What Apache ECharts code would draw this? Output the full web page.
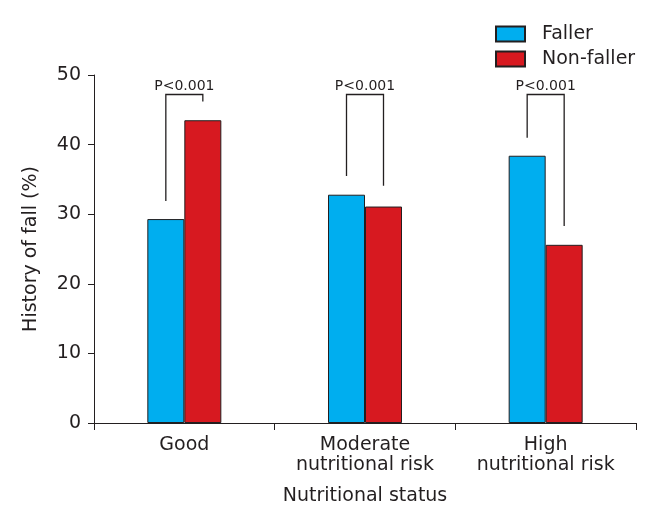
<!DOCTYPE html>
<html><head><meta charset="utf-8">
<script src="https://cdn.jsdelivr.net/npm/echarts@6/dist/echarts.min.js"></script>
<style>html,body{margin:0;padding:0;background:#fff}#c{width:649px;height:511px}</style>
</head><body><div id="c"></div>
<script>
var categories = ['Good', 'Moderate\nnutritional risk', 'High\nnutritional risk'];
var faller = [29.3, 32.8, 38.4];
var nonFaller = [43.5, 31.1, 25.6];
var yTicks = [0, 10, 20, 30, 40, 50];
// bracket: left leg bottom, right leg bottom, top (all in %)
var bracketLeft = [31.9, 35.5, 41.0];
var bracketRight = [46.2, 34.1, 28.3];
var bracketTop = [47.2, 47.2, 47.2];
var pLabels = ['P<0.001', 'P<0.001', 'P<0.001'];

var BAR_W = 37;
var font = '"DejaVu Sans", sans-serif';
var FS = 19;
var col = '#231f20';
var chart = echarts.init(document.getElementById('c'));
var bracketData = categories.map(function (c, i) { return [i, bracketLeft[i], bracketRight[i], bracketTop[i]]; });
chart.setOption({
  animation: false,
  grid: { left: 94, right: 13, top: 75, bottom: 84, containLabel: false },
  legend: {
    orient: 'vertical', left: 490, top: 19, itemWidth: 29, itemHeight: 15, itemGap: 5,
    icon: 'rect',
    textStyle: { fontFamily: font, fontSize: FS, color: col, padding: [0, 0, 0, 12], lineHeight: 20 },
    data: ['Faller', 'Non-faller']
  },
  xAxis: {
    type: 'category', data: categories, boundaryGap: true,
    name: 'Nutritional status', nameLocation: 'middle', nameGap: 64,
    nameTextStyle: { fontFamily: font, fontSize: FS, color: col },
    axisLine: { lineStyle: { color: col, width: 1 } },
    axisTick: { show: true, length: 7, alignWithLabel: false, lineStyle: { color: col } },
    axisLabel: { fontFamily: font, fontSize: FS, color: col, margin: 12, lineHeight: 20 }
  },
  yAxis: {
    type: 'value', min: 0, max: 50, interval: 10,
    name: 'History of fall (%)', nameLocation: 'middle', nameGap: 53,
    nameTextStyle: { fontFamily: font, fontSize: FS, color: col },
    axisLine: { show: true, lineStyle: { color: col, width: 1 } },
    axisTick: { show: true, length: 6, lineStyle: { color: col } },
    splitLine: { show: false },
    axisLabel: { fontFamily: font, fontSize: FS, color: col, margin: 13,
      formatter: function (v) { return yTicks.indexOf(v) >= 0 ? String(v) : ''; } }
  },
  series: [
    { name: 'Faller', type: 'bar', data: faller, barWidth: BAR_W, barGap: '0%',
      itemStyle: { color: '#00aeef', borderColor: col, borderWidth: 1 } },
    { name: 'Non-faller', type: 'bar', data: nonFaller, barWidth: BAR_W, barGap: '0%',
      itemStyle: { color: '#d71920', borderColor: col, borderWidth: 1 } },
    { type: 'custom', silent: true, data: bracketData, z: 10,
      renderItem: function (params, api) {
        var i = api.value(0);
        var pL = api.coord([i, api.value(1)]);
        var pR = api.coord([i, api.value(2)]);
        var pT = api.coord([i, api.value(3)]);
        var xl = pL[0] - BAR_W / 2, xr = pL[0] + BAR_W / 2;
        return { type: 'group', children: [
          { type: 'polyline', shape: { points: [[xl, pL[1]], [xl, pT[1]], [xr, pT[1]], [xr, pR[1]]] },
            style: { stroke: col, lineWidth: 1.3, fill: null } },
          { type: 'text', x: pL[0], y: pT[1] - 1,
            style: { text: pLabels[i], fontFamily: font, fontSize: 14, fill: col, align: 'center', verticalAlign: 'bottom' } }
        ] };
      }
    }
  ]
});
</script></body></html>
